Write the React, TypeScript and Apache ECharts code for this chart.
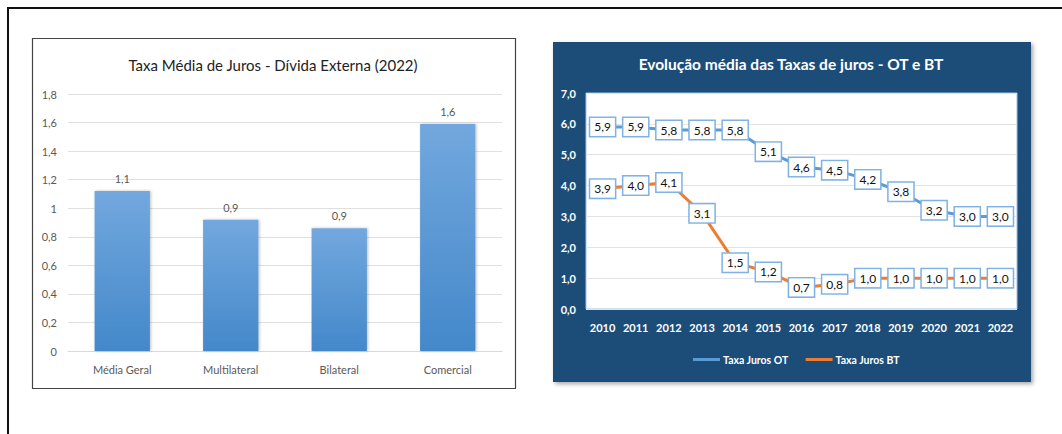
import React, { useEffect, useRef } from "react";
import * as echarts from "echarts";

const barCategories = ["Média Geral", "Multilateral", "Bilateral", "Comercial"];
const barValues = [1.12, 0.92, 0.86, 1.59];
const barTicks = { min: 0, max: 1.8, interval: 0.2 };

const years = ["2010", "2011", "2012", "2013", "2014", "2015", "2016", "2017", "2018", "2019", "2020", "2021", "2022"];
const otValues = [5.9, 5.9, 5.8, 5.8, 5.8, 5.1, 4.6, 4.5, 4.2, 3.8, 3.2, 3.0, 3.0];
const btValues = [3.9, 4.0, 4.1, 3.1, 1.5, 1.2, 0.7, 0.8, 1.0, 1.0, 1.0, 1.0, 1.0];
const lineTicks = { min: 0, max: 7, interval: 1 };

const FONT = "Lato, 'Open Sans', sans-serif";
const comma1 = (v: number) => v.toFixed(1).replace(".", ",");

export default function App() {
  const ref = useRef<HTMLDivElement>(null);
  useEffect(() => {
    if (!ref.current) return;
    const chart = echarts.init(ref.current, null, { renderer: "svg" });
    const boxLabel = {
      show: true,
      position: "inside",
      formatter: (p: any) => comma1(p.value),
      backgroundColor: "#ffffff",
      borderColor: "#7fb2e3",
      borderWidth: 1.5,
      padding: [3, 4, 3, 4],
      color: "#111",
      fontSize: 12,
      fontFamily: FONT,
    };
    chart.setOption({
      animation: false,
      textStyle: { fontFamily: FONT },
      graphic: [
        { type: "line", shape: { x1: 8, y1: 8, x2: 1062, y2: 8 }, style: { stroke: "#111", lineWidth: 2 }, z: 0 },
        { type: "line", shape: { x1: 8, y1: 7, x2: 8, y2: 434 }, style: { stroke: "#111", lineWidth: 2 }, z: 0 },
        { type: "rect", shape: { x: 32.5, y: 38.5, width: 483, height: 350 }, style: { fill: "#fff", stroke: "#444", lineWidth: 1.2 }, z: -10 },
        {
          type: "rect",
          shape: { x: 553, y: 42, width: 478, height: 340 },
          style: { fill: "#1f4e79", shadowBlur: 4, shadowOffsetX: 2, shadowOffsetY: 2, shadowColor: "rgba(0,0,0,0.35)" },
          z: -10,
        },
        {
          type: "text",
          x: 273,
          y: 65,
          style: { text: "Taxa Média de Juros - Dívida Externa (2022)", fill: "#222", fontSize: 15, fontFamily: FONT, align: "center", verticalAlign: "middle" },
        },
        {
          type: "text",
          x: 791,
          y: 64,
          style: { text: "Evolução média das Taxas de juros - OT e BT", fill: "#fff", fontSize: 15.5, fontWeight: "bold", fontFamily: FONT, align: "center", verticalAlign: "middle" },
        },
      ],
      legend: {
        data: [
          { name: "Taxa Juros OT", icon: "rect" },
          { name: "Taxa Juros BT", icon: "rect" },
        ],
        left: 688,
        top: 349,
        itemWidth: 27,
        itemHeight: 3,
        itemGap: 17,
        textStyle: { color: "#fff", fontWeight: "bold", fontSize: 10.5, fontFamily: FONT, padding: [0, 0, 0, -2] },
      },
      grid: [
        { left: 68, right: 560, top: 94, bottom: 83 },
        { left: 586, right: 45, top: 93, bottom: 125, show: true, backgroundColor: "#fff", borderColor: "#9dc3e6", borderWidth: 1 },
      ],
      xAxis: [
        {
          gridIndex: 0,
          type: "category",
          data: barCategories,
          axisLine: { lineStyle: { color: "#d9d9d9" } },
          axisTick: { show: false },
          axisLabel: { color: "#595959", fontSize: 11, margin: 13, fontFamily: FONT },
        },
        {
          gridIndex: 1,
          type: "category",
          data: years,
          axisLine: { show: false },
          axisTick: { show: false },
          axisLabel: { color: "#fff", fontSize: 11, fontWeight: "bold", margin: 13, fontFamily: FONT, interval: 0 },
        },
      ],
      yAxis: [
        {
          gridIndex: 0,
          type: "value",
          ...barTicks,
          axisLine: { show: false },
          axisTick: { show: false },
          splitLine: { lineStyle: { color: "#e0e0e0" } },
          axisLabel: { color: "#595959", fontSize: 11, margin: 11, fontFamily: FONT, formatter: (v: number) => String(Number(v.toFixed(1))).replace(".", ",") },
        },
        {
          gridIndex: 1,
          type: "value",
          ...lineTicks,
          axisLine: { show: false },
          axisTick: { show: false },
          splitLine: { lineStyle: { color: "#e3e3e3" } },
          axisLabel: { color: "#fff", fontSize: 11, fontWeight: "bold", margin: 10, fontFamily: FONT, formatter: (v: number) => comma1(v) },
        },
      ],
      series: [
        {
          type: "bar",
          xAxisIndex: 0,
          yAxisIndex: 0,
          data: barValues,
          barWidth: "51%",
          itemStyle: {
            color: new echarts.graphic.LinearGradient(0, 0, 0, 1, [
              { offset: 0, color: "#72a8de" },
              { offset: 1, color: "#4488ca" },
            ]),
            shadowBlur: 3,
            shadowOffsetX: 1,
            shadowColor: "rgba(0,0,0,0.25)",
          },
          label: { show: true, position: "top", distance: 7, color: "#595959", fontSize: 11, fontFamily: FONT, formatter: (p: any) => comma1(p.value) },
        },
        {
          name: "Taxa Juros OT",
          type: "line",
          xAxisIndex: 1,
          yAxisIndex: 1,
          data: otValues,
          symbol: "circle",
          symbolSize: 1,
          color: "#5b9bd5",
          lineStyle: { color: "#5b9bd5", width: 3 },
          itemStyle: { color: "#5b9bd5" },
          label: boxLabel,
        },
        {
          name: "Taxa Juros BT",
          type: "line",
          xAxisIndex: 1,
          yAxisIndex: 1,
          data: btValues,
          symbol: "circle",
          symbolSize: 1,
          color: "#ed7d31",
          lineStyle: { color: "#ed7d31", width: 3 },
          itemStyle: { color: "#ed7d31" },
          label: boxLabel,
        },
      ],
    });
    return () => chart.dispose();
  }, []);
  return <div ref={ref} style={{ position: "fixed", left: 0, top: 0, width: 1062, height: 434, background: "#fff" }} />;
}
